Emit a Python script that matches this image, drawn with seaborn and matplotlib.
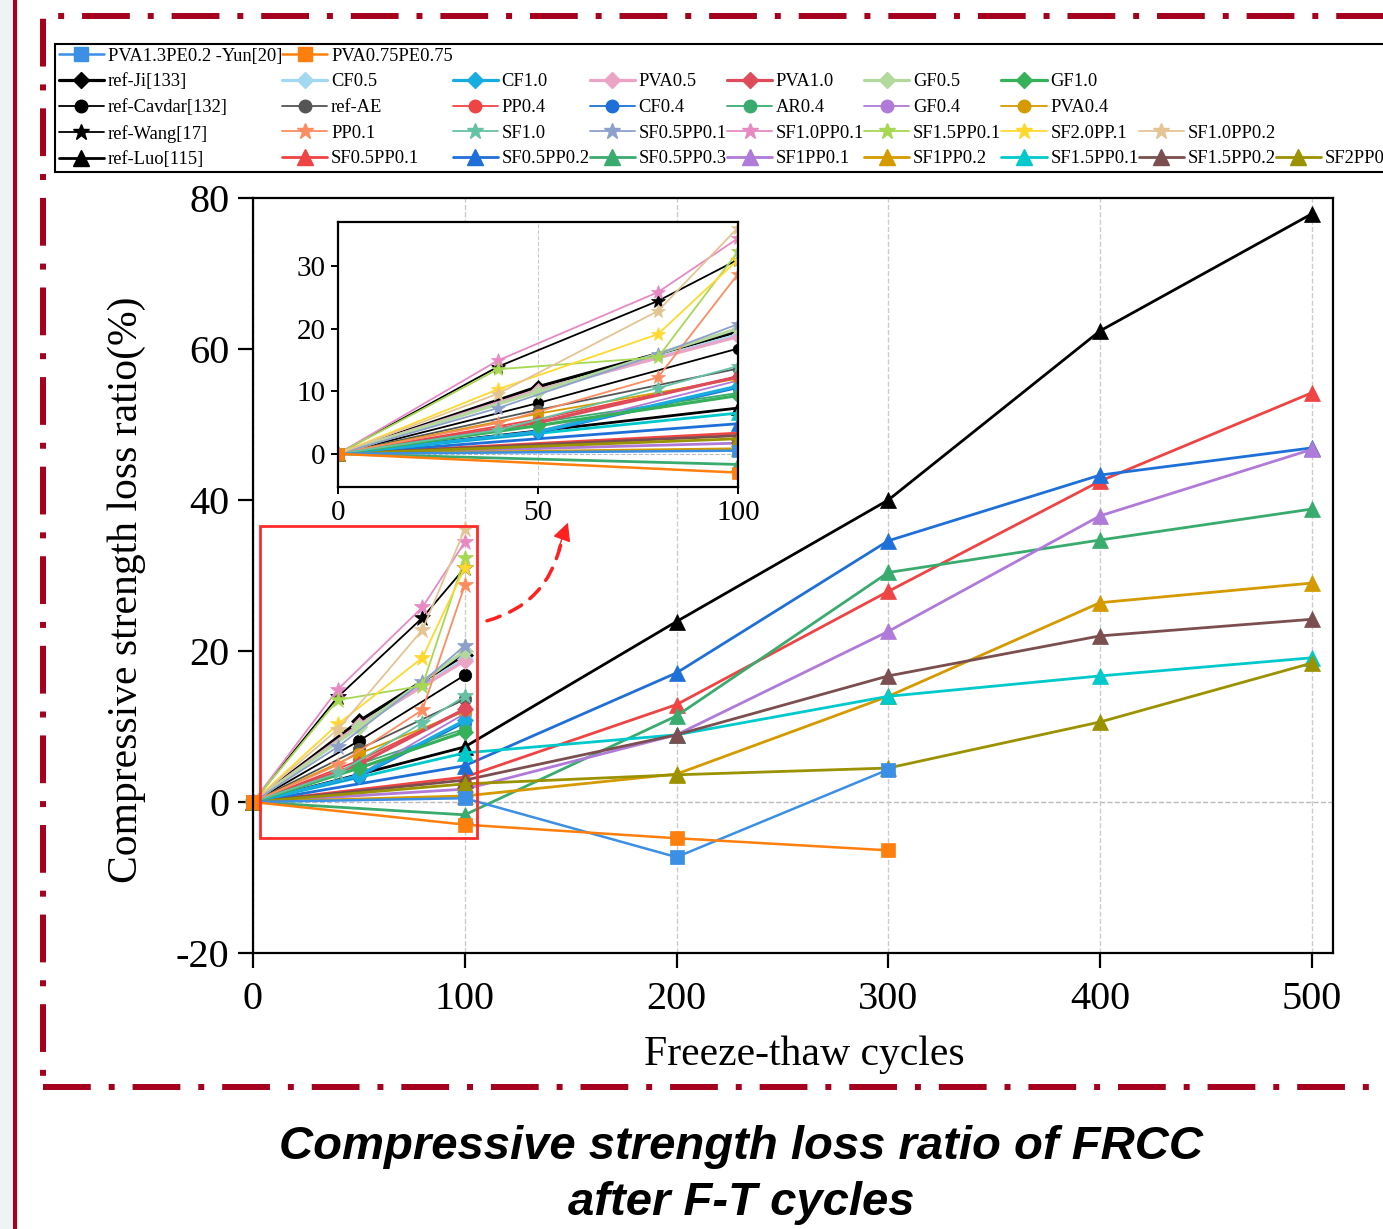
import matplotlib
matplotlib.use("Agg")
import matplotlib.pyplot as plt
import seaborn as sns
from matplotlib.lines import Line2D
from matplotlib.patches import Rectangle

# ---- data ----
x_yun = [0, 100, 200, 300]
yun_pva13pe02 = [0, 0.5, -7.3, 4.3]
yun_pva075pe075 = [0, -3.0, -4.8, -6.4]

x_ji = [0, 50, 100]
ji_ref = [0, 10.7, 19.5]
ji_cf05 = [0, 10.0, 19.0]
ji_cf10 = [0, 3.5, 10.8]
ji_pva05 = [0, 10.2, 18.7]
ji_pva10 = [0, 5.0, 12.3]
ji_gf05 = [0, 9.9, 20.0]
ji_gf10 = [0, 4.5, 9.3]

x_cav = [0, 50, 100]
cav_ref = [0, 8.1, 16.8]
cav_ae = [0, 7.0, 13.6]
cav_pp04 = [0, 5.5, 12.3]
cav_cf04 = [0, 3.3, 10.5]
cav_ar04 = [0, 5.0, 9.7]
cav_gf04 = [0, 3.6, 11.7]
cav_pva04 = [0, 6.4, 12.0]

x_wang = [0, 40, 80, 100]
wang_ref = [0, 13.9, 24.4, 31.0]
wang_pp01 = [0, 4.9, 12.2, 28.7]
wang_sf10 = [0, 3.8, 10.5, 14.0]
wang_sf05pp01 = [0, 7.3, 15.9, 20.7]
wang_sf10pp01 = [0, 14.9, 25.8, 34.4]
wang_sf15pp01 = [0, 13.5, 15.4, 32.3]
wang_sf20pp01 = [0, 10.3, 19.1, 31.0]
wang_sf10pp02 = [0, 9.6, 22.8, 36.1]

x_luo = [0, 100, 200, 300, 400, 500]
luo_ref = [0, 7.3, 23.9, 40.0, 62.4, 77.9]
luo_sf05pp01 = [0, 3.3, 12.9, 27.9, 42.5, 54.2]
luo_sf05pp02 = [0, 4.8, 17.1, 34.6, 43.3, 46.9]
luo_sf05pp03 = [0, -1.7, 11.4, 30.4, 34.7, 38.8]
luo_sf1pp01 = [0, 1.7, 8.9, 22.6, 37.9, 46.7]
luo_sf1pp02 = [0, 0.8, 3.7, 14.0, 26.4, 29.0]
luo_sf15pp01 = [0, 6.5, 8.9, 14.0, 16.7, 19.1]
luo_sf15pp02 = [0, 2.9, 8.9, 16.7, 22.0, 24.2]
luo_sf2pp02 = [0, 2.4, 3.6, 4.5, 10.6, 18.4]

# label, x, y, colour, marker, markersize, linewidth
yun = [
    ("PVA1.3PE0.2 -Yun[20]", x_yun, yun_pva13pe02, "#3b8fe5", "s", 10, 1.8),
    ("PVA0.75PE0.75", x_yun, yun_pva075pe075, "#ff7f0e", "s", 10, 1.8),
]
ji = [
    ("ref-Ji[133]", x_ji, ji_ref, "black", "D", 8, 2.3),
    ("CF0.5", x_ji, ji_cf05, "#a3d8f2", "D", 8, 2.3),
    ("CF1.0", x_ji, ji_cf10, "#17ace0", "D", 8, 2.3),
    ("PVA0.5", x_ji, ji_pva05, "#eba3c6", "D", 8, 2.3),
    ("PVA1.0", x_ji, ji_pva10, "#de4b5b", "D", 8, 2.3),
    ("GF0.5", x_ji, ji_gf05, "#b4d99c", "D", 8, 2.3),
    ("GF1.0", x_ji, ji_gf10, "#36b15a", "D", 8, 2.3),
]
cav = [
    ("ref-Cavdar[132]", x_cav, cav_ref, "black", "o", 9, 1.3),
    ("ref-AE", x_cav, cav_ae, "#555555", "o", 9, 1.3),
    ("PP0.4", x_cav, cav_pp04, "#ef4444", "o", 9, 1.3),
    ("CF0.4", x_cav, cav_cf04, "#1f6fd8", "o", 9, 1.3),
    ("AR0.4", x_cav, cav_ar04, "#3aab6e", "o", 9, 1.3),
    ("GF0.4", x_cav, cav_gf04, "#b07ad8", "o", 9, 1.3),
    ("PVA0.4", x_cav, cav_pva04, "#d49a00", "o", 9, 1.3),
]
wang = [
    ("ref-Wang[17]", x_wang, wang_ref, "black", "*", 12, 1.3),
    ("PP0.1", x_wang, wang_pp01, "#fc8d62", "*", 12, 1.3),
    ("SF1.0", x_wang, wang_sf10, "#66c2a5", "*", 12, 1.3),
    ("SF0.5PP0.1", x_wang, wang_sf05pp01, "#8da0cb", "*", 12, 1.3),
    ("SF1.0PP0.1", x_wang, wang_sf10pp01, "#e78ac3", "*", 12, 1.3),
    ("SF1.5PP0.1", x_wang, wang_sf15pp01, "#a6d854", "*", 12, 1.3),
    ("SF2.0PP.1", x_wang, wang_sf20pp01, "#ffd92f", "*", 12, 1.3),
    ("SF1.0PP0.2", x_wang, wang_sf10pp02, "#e5c494", "*", 12, 1.3),
]
luo = [
    ("ref-Luo[115]", x_luo, luo_ref, "black", "^", 12, 2.0),
    ("SF0.5PP0.1", x_luo, luo_sf05pp01, "#ef4444", "^", 12, 2.0),
    ("SF0.5PP0.2", x_luo, luo_sf05pp02, "#1f6fd8", "^", 12, 2.0),
    ("SF0.5PP0.3", x_luo, luo_sf05pp03, "#3aab6e", "^", 12, 2.0),
    ("SF1PP0.1", x_luo, luo_sf1pp01, "#b07ad8", "^", 12, 2.0),
    ("SF1PP0.2", x_luo, luo_sf1pp02, "#d49a00", "^", 12, 2.0),
    ("SF1.5PP0.1", x_luo, luo_sf15pp01, "#00c9cc", "^", 12, 2.0),
    ("SF1.5PP0.2", x_luo, luo_sf15pp02, "#7b4f4f", "^", 12, 2.0),
    ("SF2PP0.2", x_luo, luo_sf2pp02, "#9b9200", "^", 12, 2.0),
]

sns.set_theme(style="ticks")
plt.rcParams['font.family'] = ['Liberation Serif', 'DejaVu Serif']
plt.rcParams['axes.linewidth'] = 1.6
plt.rcParams['axes.edgecolor'] = 'black'
plt.rcParams['axes.labelcolor'] = 'black'
plt.rcParams['text.color'] = 'black'
plt.rcParams['xtick.color'] = 'black'
plt.rcParams['ytick.color'] = 'black'
plt.rcParams['axes.unicode_minus'] = False

fig = plt.figure(figsize=(13.83, 12.29), dpi=100)
W, H = 1383, 1229


def draw(ax, scale, clip):
    for group in (luo, cav, ji, wang, yun):
        for lab, xs, ys, c, m, ms, lw in group:
            sns.lineplot(x=xs, y=ys, ax=ax, color=c, marker=m,
                         markersize=ms * scale, linewidth=lw,
                         markeredgecolor=c, markeredgewidth=0.5,
                         estimator=None, sort=False, legend=False,
                         clip_on=clip)


# ---- main axes ----
ax = fig.add_axes([253 / W, 1 - 953 / H, 1080 / W, 755 / H])
ax.grid(axis='x', linestyle='--', color='#cccccc', linewidth=1)
ax.axhline(0, linestyle='--', color='#bbbbbb', linewidth=1, zorder=0)
draw(ax, 1.0, False)
ax.set_xlim(0, 510)
ax.set_ylim(-20, 80)
ax.set_xticks([0, 100, 200, 300, 400, 500])
ax.set_yticks([-20, 0, 20, 40, 60, 80])
ax.tick_params(direction='out', length=11, width=1.6, labelsize=29)
ax.tick_params(axis='x', pad=9)
ax.tick_params(axis='y', pad=6)
ax.set_xlabel("Freeze-thaw cycles", fontsize=30)
ax.set_ylabel("Compressive strength loss ratio(%)", fontsize=30)
ax.xaxis.set_label_coords((804 - 253) / 1080, -(1036 - 953) / 755)
ax.yaxis.set_label_coords(-(253 - 146) / 1080, (953 - 590) / 755)

# highlight box around the zoomed region
ax.add_patch(Rectangle((3.3, -4.8), 102.5, 41.4, fill=False,
                       edgecolor='#ff2a2a', linewidth=2, zorder=10,
                       clip_on=False))
ax.annotate('', xy=(145.5, 34.3), xytext=(110.5, 24.0),
            arrowprops=dict(arrowstyle='-', color='#ff2020', lw=2.5,
                            linestyle=(0, (4, 3)), shrinkA=0, shrinkB=0,
                            connectionstyle='arc3,rad=0.3'))
ax.annotate('', xy=(148.7, 37.0), xytext=(144.0, 33.4),
            arrowprops=dict(arrowstyle='-|>', color='#ff2020', lw=1,
                            mutation_scale=28, shrinkA=0, shrinkB=0))

# ---- inset ----
axin = fig.add_axes([338 / W, 1 - 487 / H, 400 / W, 265 / H])
axin.grid(axis='x', linestyle='--', color='#cccccc', linewidth=0.8)
axin.axhline(0, linestyle='--', color='#bbbbbb', linewidth=0.8, zorder=0)
draw(axin, 0.85, True)
axin.set_xlim(0, 100)
axin.set_ylim(-5.3, 37)
axin.set_xticks([0, 50, 100])
axin.set_yticks([0, 10, 20, 30])
axin.tick_params(direction='out', length=5, width=1.4, labelsize=21, pad=4)
axin.set_xlabel('')
axin.set_ylabel('')

# ---- legend (column-major, blanks to keep the original grid) ----
def handle(entry):
    lab, xs, ys, c, m, ms, lw = entry
    return Line2D([], [], color=c, marker=m, markersize=ms, linewidth=lw,
                  markeredgecolor=c)


blank = (Line2D([], [], linestyle='none'), '')
cols = [
    [yun[0], ji[0], cav[0], wang[0], luo[0]],
    [yun[1], ji[1], cav[1], wang[1], luo[1]],
    [None, ji[2], cav[2], wang[2], luo[2]],
    [None, ji[3], cav[3], wang[3], luo[3]],
    [None, ji[4], cav[4], wang[4], luo[4]],
    [None, ji[5], cav[5], wang[5], luo[5]],
    [None, ji[6], cav[6], wang[6], luo[6]],
    [None, None, None, wang[7], luo[7]],
    [None, None, None, None, luo[8]],
]
handles, labels = [], []
for col in cols:
    for e in col:
        if e is None:
            handles.append(blank[0])
            labels.append(blank[1])
        else:
            handles.append(handle(e))
            labels.append(e[0])

leg = fig.legend(handles, labels, ncol=9, loc='upper left',
                 bbox_to_anchor=(55 / W, 1 - 44 / H), borderaxespad=0,
                 fontsize=13.3, frameon=True, fancybox=False, edgecolor='black',
                 framealpha=1, handlelength=2.45, handletextpad=0.2,
                 columnspacing=0.0, labelspacing=0.47, borderpad=0.2)
leg.get_frame().set_linewidth(1.5)

# ---- page decoration ----
fig.add_artist(Rectangle((0, 0), 12 / W, 1, transform=fig.transFigure,
                         facecolor='#ecf4f6', edgecolor='none', zorder=-5))
fig.add_artist(Line2D([14.7 / W, 14.7 / W], [0, 1], transform=fig.transFigure,
                      color='#a5001e', linewidth=3))
fig.add_artist(Rectangle((42.5 / W, 1 - 1087 / H), 1400 / W, (1087 - 15.5) / H,
                         transform=fig.transFigure, fill=False,
                         edgecolor='#a5001e', linewidth=4.3,
                         linestyle=(0, (8, 3, 1, 3))))

fig.text(741 / W, 1 - 1159 / H, "Compressive strength loss ratio of FRCC",
         ha='center', va='baseline', fontsize=34, fontweight='bold',
         fontstyle='italic', color='black',
         family=['Liberation Sans', 'DejaVu Sans'])
fig.text(741 / W, 1 - 1215 / H, "after F-T cycles",
         ha='center', va='baseline', fontsize=34, fontweight='bold',
         fontstyle='italic', color='black',
         family=['Liberation Sans', 'DejaVu Sans'])

fig.savefig("out.png", dpi=100)
